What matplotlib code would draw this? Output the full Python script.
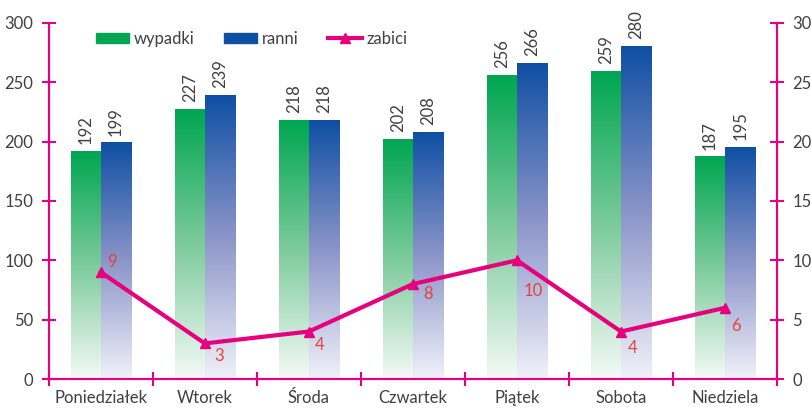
import numpy as np
import matplotlib
matplotlib.use("Agg")
import matplotlib.pyplot as plt
from matplotlib.colors import LinearSegmentedColormap
from matplotlib.patches import Patch
from matplotlib.lines import Line2D

plt.rcParams['font.family'] = ['Lato', 'DejaVu Sans']

days = ["Poniedziałek", "Wtorek", "Środa", "Czwartek", "Piątek", "Sobota", "Niedziela"]
wypadki = [192, 227, 218, 202, 256, 259, 187]
ranni = [199, 239, 218, 208, 266, 280, 195]
zabici = [9, 3, 4, 8, 10, 4, 6]

MAG = "#E6007E"
TXT = "#404040"
LBL = "#E8413C"

green_cm = LinearSegmentedColormap.from_list("g", ["#F4FAF6", "#7DCB9C", "#00A651"])
blue_cm = LinearSegmentedColormap.from_list("b", ["#F0F1F9", "#8B95C9", "#0F4FA3"])

fig = plt.figure(figsize=(8.12, 4.08), dpi=100)
ax = fig.add_axes([0.060, 0.071, 0.897, 0.873])
ax2 = ax.twinx()

x = np.arange(len(days))
w = 0.29
grad = np.linspace(0, 1, 256).reshape(-1, 1)

def grad_bar(xl, h, cmap):
    ax.imshow(grad, extent=[xl, xl + w, 0, h], origin="lower", aspect="auto",
              cmap=cmap, zorder=2, interpolation="bicubic")

for i in range(len(days)):
    grad_bar(x[i] - w, wypadki[i], green_cm)
    grad_bar(x[i], ranni[i], blue_cm)
    ax.text(x[i] - w / 2, wypadki[i] + 6, str(wypadki[i]), rotation=90,
            ha="center", va="bottom", fontsize=12, color=TXT)
    ax.text(x[i] + w / 2, ranni[i] + 6, str(ranni[i]), rotation=90,
            ha="center", va="bottom", fontsize=12, color=TXT)

ax.set_xlim(-0.5, len(days) - 0.5)
ax.set_ylim(0, 300)
ax.set_yticks(range(0, 301, 50))
ax.set_xticks(x)
ax.set_xticklabels(days)
ax.set_xticks(np.arange(-0.5, len(days), 1), minor=True)
ax.tick_params(axis="x", which="major", length=0, pad=8, labelsize=12, labelcolor=TXT)
ax.tick_params(axis="x", which="minor", length=10, direction="inout", color=MAG, width=1.5)
ax.tick_params(axis="y", length=10, direction="inout", color=MAG, width=1.5,
               labelsize=12, labelcolor=TXT, pad=6)

ax2.plot(x, zabici, color=MAG, lw=3, marker="^", ms=7, zorder=5)
ax2.set_ylim(0, 30)
ax2.set_yticks(range(0, 31, 5))
ax2.tick_params(axis="y", length=10, direction="inout", color=MAG, width=1.5,
                labelsize=12, labelcolor=TXT, pad=6)

# label offsets in points
offs = [(8, 7), (10, -9), (8, -10), (11, -7.5), (12, -22), (8, -12), (8, -13)]
for i, v in enumerate(zabici):
    ax2.annotate(str(v), (x[i], v), xytext=offs[i], textcoords="offset points",
                 ha="center", va="center", fontsize=12, color=LBL, zorder=6)

for a in (ax, ax2):
    a.spines["top"].set_visible(False)
    for s in ("left", "right", "bottom"):
        a.spines[s].set_color(MAG)
        a.spines[s].set_linewidth(1.5)

handles = [Patch(color="#00A651"), Patch(color="#114FA3"),
           Line2D([], [], color=MAG, lw=3, marker="^", ms=7)]
ax.legend(handles, ["wypadki", "ranni", "zabici"], loc="upper left",
          bbox_to_anchor=(0.044, 1.02), ncol=3, frameon=False, fontsize=12,
          handlelength=2.0, handleheight=0.6, handletextpad=0.3, columnspacing=1.75,
          labelcolor=TXT)

fig.savefig("out.png", dpi=100)
